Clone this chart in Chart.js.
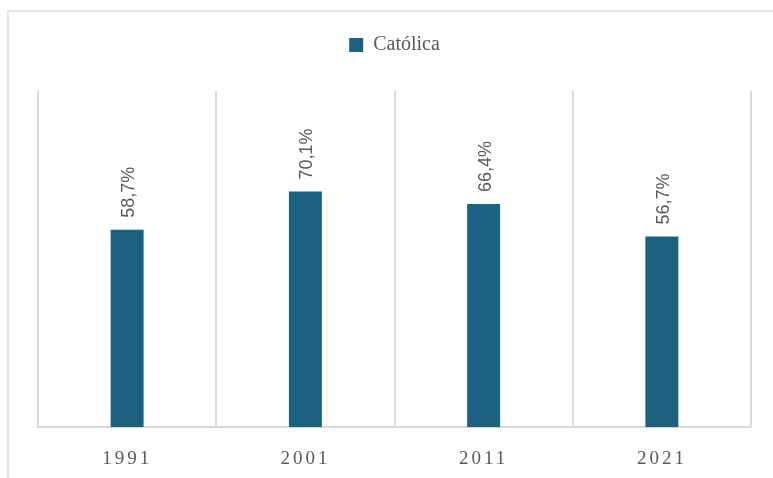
<!doctype html>
<html lang="pt">
  <head>
    <meta charset="utf-8">
    <title>Católica</title>
    <style>
      * { margin: 0; padding: 0; }
      body { background: #fff; width: 773px; height: 478px; overflow: hidden; position: relative; }
      .frame {
        position: absolute; left: 7px; top: 10px; width: 800px; height: 500px;
        border-left: 2px solid #e4e4e4; border-top: 2px solid #e4e4e4;
      }
      .chartBox { position: absolute; left: 0; top: 0; width: 773px; height: 478px; }
    </style>
  </head>
  <body>
    <div class="frame"></div>
    <div class="chartBox">
      <canvas id="myChart"></canvas>
    </div>

    <script src="https://cdn.jsdelivr.net/npm/chart.js"></script>
    <script>
    // data
    const anos = ['1991', '2001', '2011', '2021'];
    const catolica = [58.7, 70.1, 66.4, 56.7];
    const serieNome = 'Católica';

    const azul = '#1c6180';
    const cinza = '#595959';
    const grade = '#d9d9d9';

    // extra room under the legend
    const legendaMargem = {
      id: 'legendaMargem',
      beforeInit(chart) {
        const fit = chart.legend.fit;
        chart.legend.fit = function () {
          fit.bind(chart.legend)();
          this.height += 26;
        };
      }
    };

    // rotated value labels above the bars, x labels get letter spacing
    const rotuloPlugin = {
      id: 'rotulos',
      afterDatasetsDraw(chart) {
        const ctx = chart.ctx;
        const meta = chart.getDatasetMeta(0);
        ctx.save();
        ctx.font = '18px "Liberation Sans", sans-serif';
        ctx.fillStyle = cinza;
        ctx.textAlign = 'left';
        ctx.textBaseline = 'middle';
        meta.data.forEach((bar, i) => {
          const txt = catolica[i].toFixed(1).replace('.', ',') + '%';
          ctx.save();
          ctx.translate(bar.x + 2, bar.y - 12);
          ctx.rotate(-Math.PI / 2);
          ctx.fillText(txt, 0, 0);
          ctx.restore();
        });
        ctx.restore();
        ctx.letterSpacing = '3px';
      },
      afterDraw(chart) {
        chart.ctx.letterSpacing = '0px';
      }
    };

    const data = {
      labels: anos,
      datasets: [{
        label: serieNome,
        data: catolica,
        backgroundColor: azul,
        borderWidth: 0,
        categoryPercentage: 1,
        barPercentage: 0.185
      }]
    };

    const config = {
      type: 'bar',
      data,
      options: {
        responsive: true,
        maintainAspectRatio: false,
        animation: false,
        layout: { padding: { left: 38, right: 22, top: 9, bottom: -12 } },
        plugins: {
          legend: {
            labels: {
              boxWidth: 14,
              boxHeight: 14,
              padding: 26,
              color: cinza,
              font: { family: '"Liberation Serif", serif', size: 20 }
            }
          },
          tooltip: { enabled: false }
        },
        scales: {
          x: {
            offset: true,
            grid: { offset: true, color: grade, lineWidth: 2, drawTicks: false },
            border: { color: grade, width: 2 },
            ticks: {
              z: 1,
              padding: 20,
              color: cinza,
              font: { family: '"Liberation Serif", serif', size: 19 }
            }
          },
          y: {
            display: false,
            min: 0,
            max: 100
          }
        }
      },
      plugins: [legendaMargem, rotuloPlugin]
    };

    const myChart = new Chart(document.getElementById('myChart'), config);
    </script>
  </body>
</html>
